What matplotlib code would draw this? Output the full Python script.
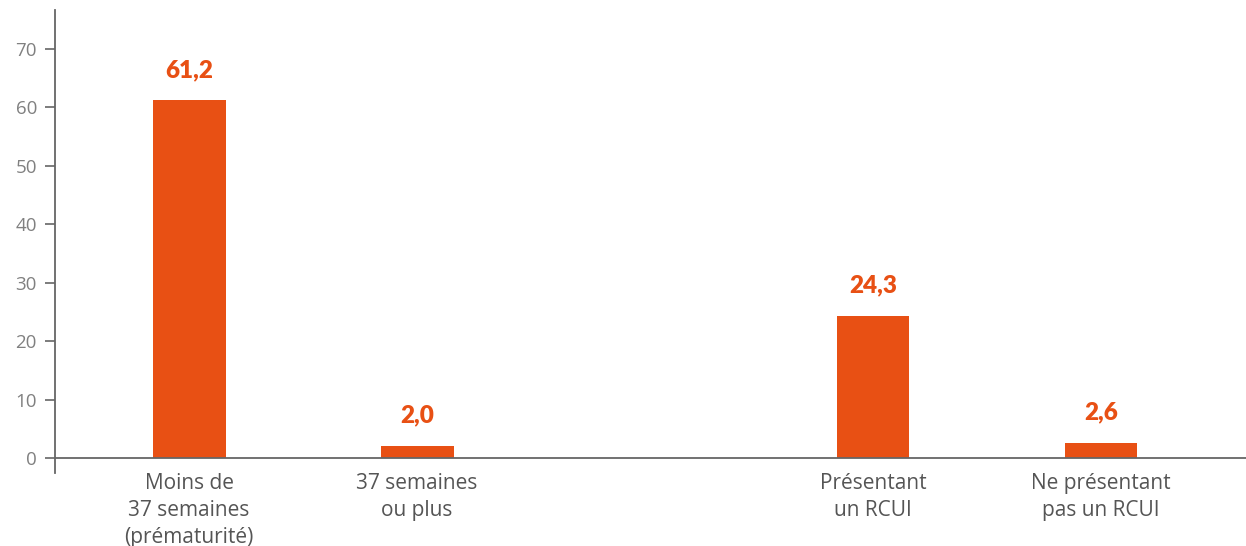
import matplotlib
matplotlib.use("Agg")
import matplotlib.pyplot as plt

categories = ["Moins de\n37 semaines\n(prématurité)", "37 semaines\nou plus",
              "Présentant\nun RCUI", "Ne présentant\npas un RCUI"]
positions = [0, 1, 3, 4]
values = [61.2, 2.0, 24.3, 2.6]
value_labels = ["61,2", "2,0", "24,3", "2,6"]
yticks = [0, 10, 20, 30, 40, 50, 60, 70]

color = "#E85014"
plt.rcParams['font.family'] = ['Open Sans', 'DejaVu Sans']

fig = plt.figure(figsize=(12.46, 5.46), dpi=100)
ax = fig.add_axes([55/1246, 1-473/546, 1-55/1246, (473-10)/546])
ax.bar(positions, values, width=0.32, color=color, zorder=2)
ax.set_ylim(-2.57, 76.67)
ax.set_xlim(-0.588, 4.636)
ax.axhline(0, color="#666666", lw=1.3, zorder=3)

for s in ["top", "right", "bottom"]:
    ax.spines[s].set_visible(False)
ax.spines["left"].set_color("#666666")
ax.spines["left"].set_linewidth(1.3)

ax.set_yticks(yticks)
ax.set_yticklabels([str(t) for t in yticks], fontsize=13.5, color="#808080")
ax.tick_params(axis="y", length=7, width=1.2, color="#666666", pad=6)

ax.set_xticks(positions)
ax.set_xticklabels(categories, fontsize=15, color="#555555", linespacing=1.38)
ax.tick_params(axis="x", length=0, pad=0)

for p, v, lab in zip(positions, values, value_labels):
    ax.annotate(lab, (p, v), xytext=(0, 22), textcoords="offset points",
                ha="center", va="center", fontsize=17.5, fontweight="heavy", color=color,
                family=['Lato', 'DejaVu Sans'])

fig.savefig("out.png", dpi=100)
